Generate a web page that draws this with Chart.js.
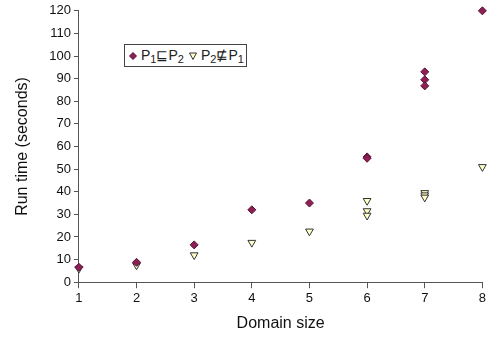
<!DOCTYPE html>
<html>
<head>
<meta charset="utf-8">
<script src="https://cdn.jsdelivr.net/npm/chart.js@4/dist/chart.umd.min.js"></script>
<style>
  html, body { margin: 0; padding: 0; background: #fff; }
  #wrap { position: relative; width: 488px; height: 337px; }
  #legend {
    position: absolute; left: 124px; top: 44px; height: 21px;
    border: 1px solid #444; background: #fff;
    font-family: "Liberation Sans", Arial, sans-serif; font-size: 14px; color: #222;
    display: flex; align-items: center; padding: 0 2px 0 4px; white-space: nowrap;
  }
  #legend sub { font-size: 11px; vertical-align: -3px; }
  #legend svg { margin-right: 4px; }
</style>
</head>
<body>
<div id="wrap">
  <canvas id="runtimeChart" width="488" height="337"></canvas>
  <div id="legend">
    <svg width="8" height="8"><polygon points="4,0.5 7.5,4 4,7.5 0.5,4" fill="#8e1f55" stroke="#5a1235" stroke-width="1"/></svg>
    <span>P<sub>1</sub>⊑P<sub>2</sub></span>
    <svg width="8" height="8" style="margin-left:5px"><polygon points="0.5,1 7.5,1 4,7.5" fill="#ffffc8" stroke="#333" stroke-width="1"/></svg>
    <span>P<sub>2</sub>⋢P<sub>1</sub></span>
  </div>
</div>
<script>
var xTicks = [1, 2, 3, 4, 5, 6, 7, 8];
var yTicks = [0, 10, 20, 30, 40, 50, 60, 70, 80, 90, 100, 110, 120];

var subsetX    = [1,   2,   3,    4,  5,  6,    6,    7,  7,    7,    8];
var subsetTime = [6.6, 8.8, 16.5, 32, 35, 55.4, 54.8, 93, 89.5, 86.8, 120];

var notSubsetX    = [1, 2,   3,  4,    5,    6,  6,    6,    7,    7,    7,    8];
var notSubsetTime = [6, 7.5, 12, 17.5, 22.5, 36, 31.5, 29.5, 39.5, 38.5, 37.5, 51];

function toPoints(xs, ys) {
    return xs.map(function (x, i) { return { x: x, y: ys[i] }; });
}

var font = { family: '"Liberation Sans", Arial, sans-serif', size: 13 };

new Chart(document.getElementById('runtimeChart').getContext('2d'), {
    type: 'scatter',
    data: {
        datasets: [{
            label: 'P1⊑P2',
            data: toPoints(subsetX, subsetTime),
            pointStyle: 'rectRot',
            pointRadius: 4,
            backgroundColor: '#8e1f55',
            borderColor: '#5a1235',
            borderWidth: 1,
            clip: false
        }, {
            label: 'P2⋢P1',
            data: toPoints(notSubsetX, notSubsetTime),
            pointStyle: 'triangle',
            rotation: 180,
            pointRadius: 4.5,
            backgroundColor: '#ffffc8',
            borderColor: '#333',
            borderWidth: 1,
            clip: false
        }]
    },
    options: {
        responsive: false,
        animation: false,
        layout: { padding: { top: 2, right: 5, left: 9, bottom: 0 } },
        plugins: { legend: { display: false }, tooltip: { enabled: false } },
        scales: {
            x: {
                type: 'linear',
                min: xTicks[0],
                max: xTicks[xTicks.length - 1],
                afterBuildTicks: function (axis) { axis.ticks = xTicks.map(function (v) { return { value: v }; }); },
                grid: { drawOnChartArea: false, drawTicks: true, tickLength: 6, color: '#555' },
                border: { display: true, color: '#555', width: 1 },
                ticks: { color: '#111', font: font, padding: 2 },
                title: { display: true, text: 'Domain size', color: '#111', font: { family: font.family, size: 16 }, padding: { top: 6 } }
            },
            y: {
                type: 'linear',
                min: yTicks[0],
                max: yTicks[yTicks.length - 1],
                afterBuildTicks: function (axis) { axis.ticks = yTicks.map(function (v) { return { value: v }; }); },
                grid: { drawOnChartArea: false, drawTicks: true, tickLength: 5, color: '#555' },
                border: { display: true, color: '#555', width: 1 },
                ticks: { color: '#111', font: font, padding: 3 },
                title: { display: true, text: 'Run time (seconds)', color: '#111', font: { family: font.family, size: 16 }, padding: { bottom: 14 } }
            }
        }
    }
});
</script>
</body>
</html>
